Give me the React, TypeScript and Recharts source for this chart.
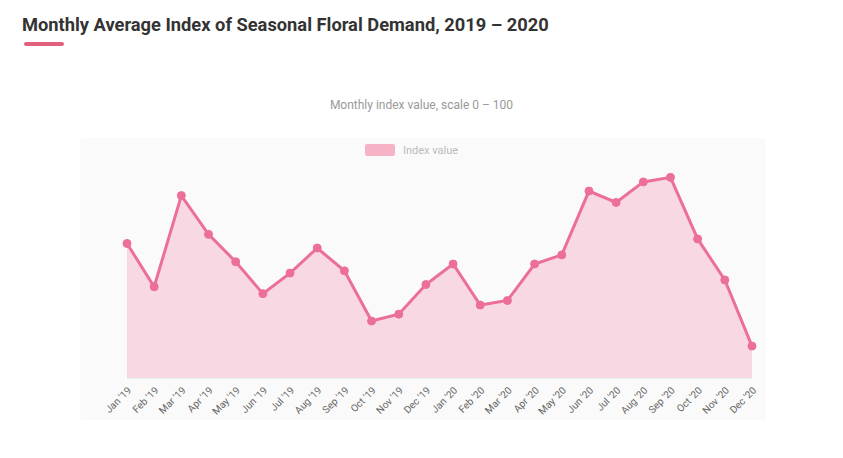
import React from "react";
import { ComposedChart, Area, XAxis, YAxis, Legend } from "recharts";

const titleText = "Monthly Average Index of Seasonal Floral Demand, 2019 – 2020";
const legendTitle = "Monthly index value, scale 0 – 100";
const seriesName = "Index value";

const months = [
  "Jan '19", "Feb '19", "Mar '19", "Apr '19", "May '19", "Jun '19",
  "Jul '19", "Aug '19", "Sep '19", "Oct '19", "Nov '19", "Dec '19",
  "Jan '20", "Feb '20", "Mar '20", "Apr '20", "May '20", "Jun '20",
  "Jul '20", "Aug '20", "Sep '20", "Oct '20", "Nov '20", "Dec '20",
];
const values = [59, 40, 80, 63, 51, 37, 46, 57, 47, 25, 28, 41, 50, 32, 34, 50, 54, 82, 77, 86, 88, 61, 43, 14];

const data = months.map((m, i) => ({ month: m, value: values[i] }));

const LINE = "#ec6f9a";

const LegendContent = () => (
  <div style={{ textAlign: "center", fontFamily: "Roboto, 'Noto Sans', sans-serif" }}>
    <div style={{ fontSize: 12, color: "#999", lineHeight: "16px", marginBottom: 28 }}>{legendTitle}</div>
    <div style={{ display: "inline-flex", alignItems: "center", gap: 8, marginLeft: -20 }}>
      <span style={{ display: "inline-block", width: 30, height: 12, background: "#f6b3c6", borderRadius: 2 }} />
      <span style={{ fontSize: 11, color: "#bbb" }}>{seriesName}</span>
    </div>
  </div>
);

export default function App() {
  return (
    <div
      style={{
        position: "absolute",
        left: 0,
        top: 0,
        width: 843,
        height: 458,
        background: "#ffffff",
        fontFamily: "Roboto, 'Noto Sans', sans-serif",
        overflow: "hidden",
      }}
    >
      <div
        style={{
          position: "absolute",
          left: 22,
          top: 14,
          fontSize: 18.3,
          fontWeight: 700,
          color: "#333",
          whiteSpace: "nowrap",
        }}
      >
        {titleText}
      </div>
      <div style={{ position: "absolute", left: 24, top: 42, width: 40, height: 4, background: "#e0607e", borderRadius: 2 }} />
      <div
        style={{
          position: "absolute",
          left: 80,
          top: 138,
          width: 686,
          height: 282,
          background: "#fafafa",
          borderRadius: 4,
        }}
      />
      <div style={{ position: "absolute", left: 0, top: 0 }}>
        <ComposedChart
          width={843}
          height={458}
          data={data}
          margin={{ top: 150, right: 91, bottom: 35, left: 127 }}
        >
          <XAxis
            dataKey="month"
            interval={0}
            tickLine={false}
            axisLine={{ stroke: "#e0e0e0" }}
            tick={{ fontSize: 10, fill: "#666" }}
            angle={-45}
            textAnchor="end"
            height={45}
          />
          <YAxis hide domain={[0, 100]} />
          <Legend
            verticalAlign="middle"
            align="center"
            layout="horizontal"
            wrapperStyle={{ top: 97, left: 0, width: 843 }}
            content={<LegendContent />}
          />
          <Area
            type="linear"
            dataKey="value"
            name={seriesName}
            stroke={LINE}
            strokeWidth={3}
            fill="#f48fb1"
            fillOpacity={0.3}
            dot={{ r: 4, fill: LINE, fillOpacity: 1, stroke: LINE, strokeWidth: 1 }}
            isAnimationActive={false}
          />
        </ComposedChart>
      </div>
    </div>
  );
}
